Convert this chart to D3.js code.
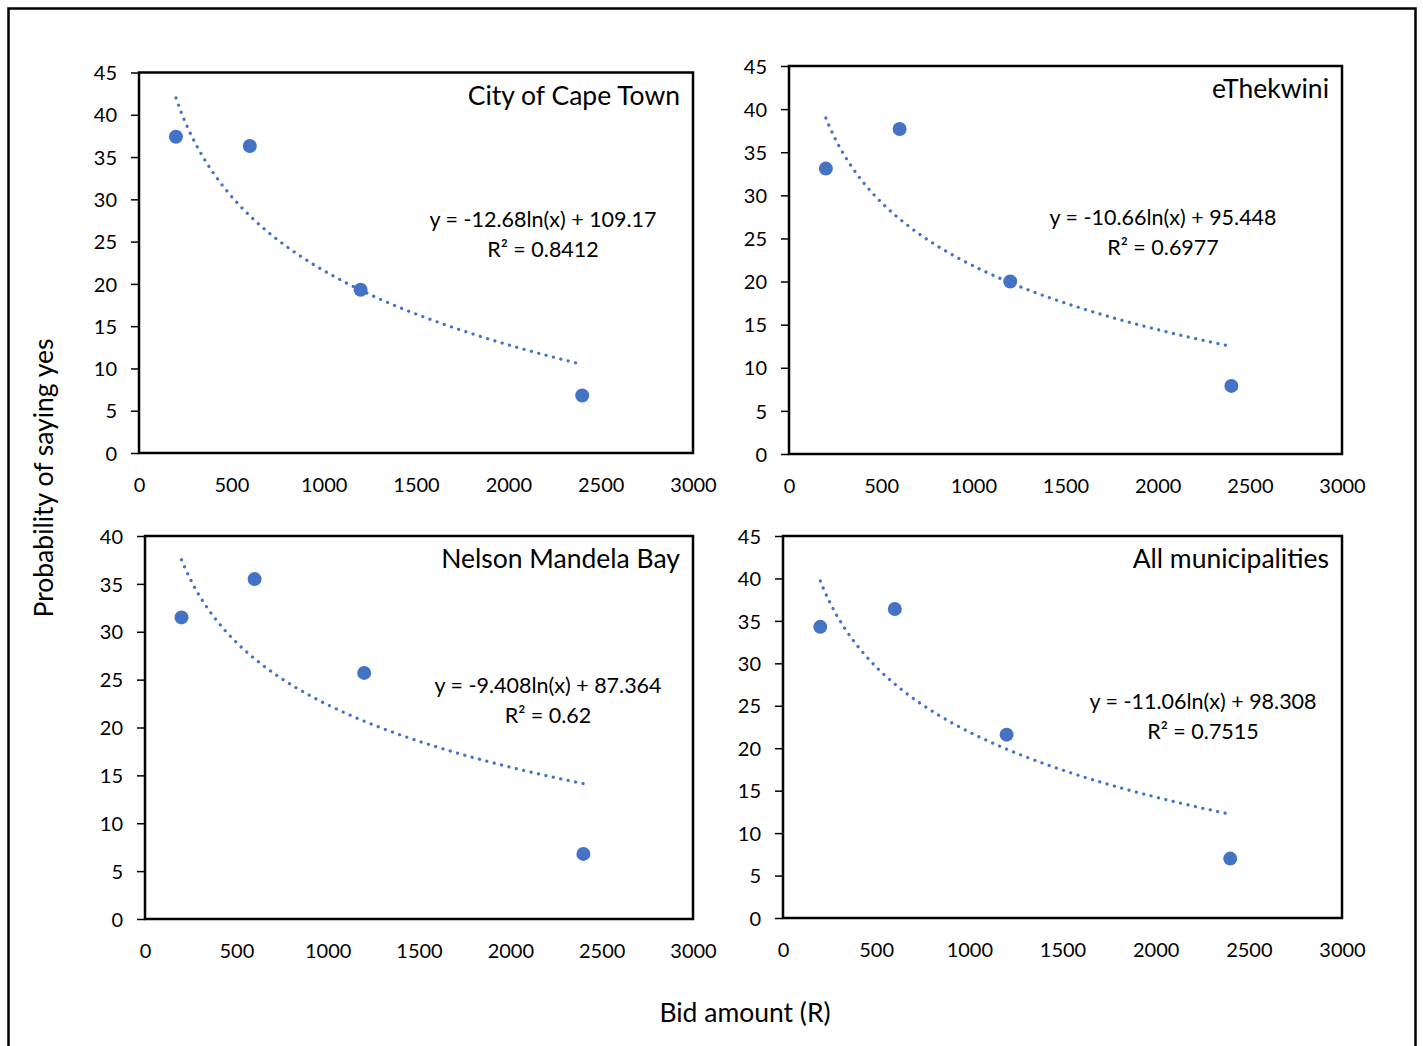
<!DOCTYPE html>
<html>
<head>
<meta charset="utf-8">
<script src="https://cdn.jsdelivr.net/npm/d3@7"></script>
<style>
  body { margin: 0; background: #fff; }
  svg { display: block; }
  text { font-family: Lato, "Open Sans", sans-serif; fill: #000; }
  .tick-label { font-size: 20px; }
  .panel-title { font-size: 26.5px; }
  .eq { font-size: 21.5px; }
  .axis-title { font-size: 26.5px; }
</style>
</head>
<body>
<svg id="chart" width="1423" height="1046"></svg>
<script>
// bid amounts (R) shared by all panels
const bids = [200, 600, 1200, 2400];
const xTicks = [0, 500, 1000, 1500, 2000, 2500, 3000];

// probability of saying yes (%) per municipality
const capeTown = [37.4, 36.3, 19.3, 6.8];
const eThekwini = [33.1, 37.7, 20.0, 7.9];
const nelsonMandela = [31.5, 35.5, 25.7, 6.8];
const allMunicipalities = [34.3, 36.4, 21.6, 7.0];

const panelTitles = ['City of Cape Town', 'eThekwini', 'Nelson Mandela Bay', 'All municipalities'];
const yMaxes = [45, 45, 40, 45];

// log trendline coefficients (y = a ln(x) + b) and labels
const trendA = [-12.68, -10.66, -9.408, -11.06];
const trendB = [109.17, 95.448, 87.364, 98.308];
const eqLabels = ['y = -12.68ln(x) + 109.17', 'y = -10.66ln(x) + 95.448', 'y = -9.408ln(x) + 87.364', 'y = -11.06ln(x) + 98.308'];
const r2Labels = ['R\u00b2 = 0.8412', 'R\u00b2 = 0.6977', 'R\u00b2 = 0.62', 'R\u00b2 = 0.7515'];

const series = [capeTown, eThekwini, nelsonMandela, allMunicipalities];

// plot-area boxes and equation anchor for each panel
const layout = [
  {left: 139, top: 72.5, right: 693, bottom: 453, eqX: 543, eqY: 227},
  {left: 789, top: 66, right: 1342, bottom: 454, eqX: 1163, eqY: 225},
  {left: 145, top: 536, right: 693, bottom: 919, eqX: 548, eqY: 693},
  {left: 783, top: 536, right: 1342, bottom: 918, eqX: 1203, eqY: 709}
];

const blue = '#4472C4';
const svg = d3.select('#chart');

// outer frame
svg.append('rect')
    .attr('x', 8.5).attr('y', 8.5)
    .attr('width', 1407).attr('height', 1050)
    .attr('fill', 'none').attr('stroke', '#000').attr('stroke-width', 2.5);

layout.forEach((L, i) => {
  const x = d3.scaleLinear().domain([0, 3000]).range([L.left, L.right]);
  const y = d3.scaleLinear().domain([0, yMaxes[i]]).range([L.bottom, L.top]);
  const g = svg.append('g');

  // y axis ticks + labels
  const yAxis = d3.axisLeft(y).tickValues(d3.range(0, yMaxes[i] + 1, 5)).tickSize(8).tickPadding(14);
  const ya = g.append('g').attr('transform', `translate(${L.left},0)`).call(yAxis);
  ya.select('.domain').remove();
  ya.selectAll('line').attr('stroke', '#000').attr('stroke-width', 1.5);
  ya.selectAll('text').attr('class', 'tick-label').attr('font-size', null).attr('font-family', null).attr('dy', '0.36em');

  // x axis labels, no ticks
  const xAxis = d3.axisBottom(x).tickValues(xTicks).tickFormat(d3.format('d')).tickSize(0).tickPadding(25);
  const xa = g.append('g').attr('transform', `translate(0,${L.bottom})`).call(xAxis);
  xa.select('.domain').remove();
  xa.selectAll('text').attr('class', 'tick-label').attr('font-size', null).attr('font-family', null);

  // plot border
  g.append('rect')
      .attr('x', L.left).attr('y', L.top)
      .attr('width', L.right - L.left).attr('height', L.bottom - L.top)
      .attr('fill', 'none').attr('stroke', '#000').attr('stroke-width', 2.5);

  // trendline
  const xs = d3.range(bids[0], bids[bids.length - 1] + 1, 10);
  const line = d3.line().x(d => x(d)).y(d => y(trendA[i] * Math.log(d) + trendB[i]));
  g.append('path')
      .datum(xs)
      .attr('d', line)
      .attr('fill', 'none')
      .attr('stroke', blue)
      .attr('stroke-width', 3.2)
      .attr('stroke-linecap', 'round')
      .attr('stroke-dasharray', '0.1 7.5');

  // points
  g.selectAll('circle.pt')
    .data(series[i])
    .join('circle')
      .attr('class', 'pt')
      .attr('cx', (d, j) => x(bids[j]))
      .attr('cy', d => y(d))
      .attr('r', 7)
      .attr('fill', blue);

  // title
  g.append('text')
      .attr('class', 'panel-title')
      .attr('x', L.right - 13)
      .attr('y', L.top + 32)
      .attr('text-anchor', 'end')
      .text(panelTitles[i]);

  // equation
  g.append('text').attr('class', 'eq').attr('x', L.eqX).attr('y', L.eqY)
      .attr('text-anchor', 'middle').text(eqLabels[i]);
  g.append('text').attr('class', 'eq').attr('x', L.eqX).attr('y', L.eqY + 30)
      .attr('text-anchor', 'middle').text(r2Labels[i]);
});

svg.append('text')
    .attr('class', 'axis-title')
    .attr('x', 745).attr('y', 1022)
    .attr('text-anchor', 'middle')
    .text('Bid amount (R)');

svg.append('text')
    .attr('class', 'axis-title')
    .attr('transform', 'translate(53,478) rotate(-90)')
    .attr('text-anchor', 'middle')
    .text('Probability of saying yes');
</script>
</body>
</html>
